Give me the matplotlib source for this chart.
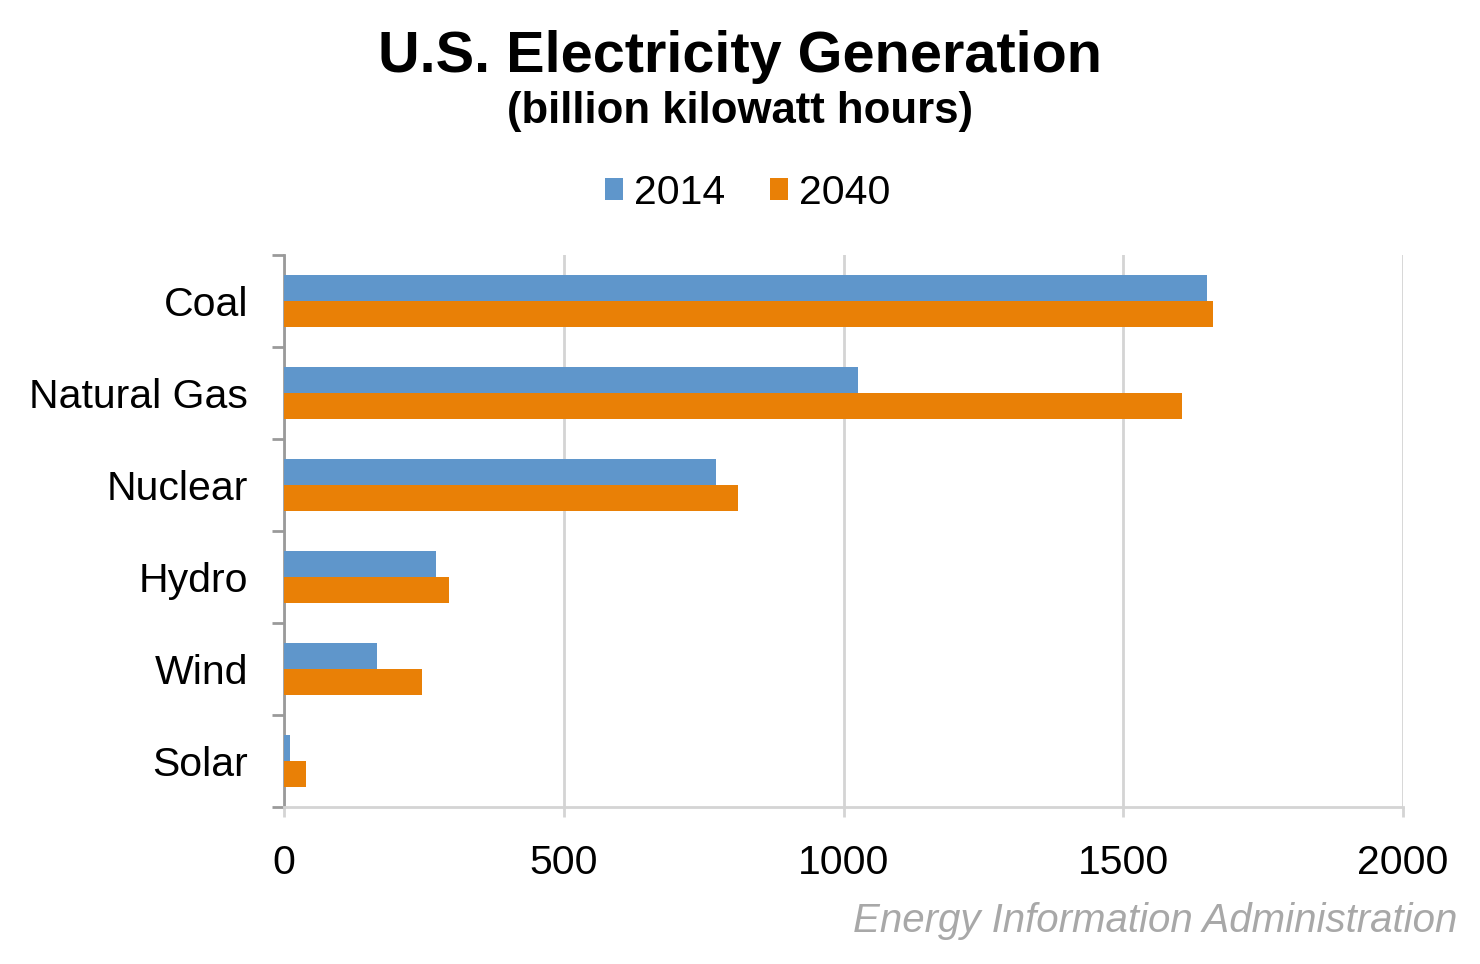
import matplotlib.pyplot as plt
import numpy as np

plt.rcParams["font.family"] = ["Liberation Sans", "DejaVu Sans"]

categories = ["Coal", "Natural Gas", "Nuclear", "Hydro", "Wind", "Solar"]
gen_2014 = [1650, 1026, 772, 272, 166, 11]
gen_2040 = [1660, 1605, 811, 295, 247, 39]
xticks = [0, 500, 1000, 1500, 2000]

BLUE = "#5f96cb"
ORANGE = "#e98006"

fig = plt.figure(figsize=(14.8, 9.64), dpi=100)
ax = fig.add_axes([0.1919, 0.1629, 0.7561, 0.5726])

y = np.arange(len(categories))
h = 0.28
ax.barh(y - h / 2, gen_2014, height=h, color=BLUE, label="2014", zorder=3)
ax.barh(y + h / 2, gen_2040, height=h, color=ORANGE, label="2040", zorder=3)

ax.set_ylim(len(categories) - 0.5, -0.5)
ax.set_xlim(0, 2000)
ax.set_xticks(xticks)
ax.set_xticklabels([str(v) for v in xticks])
ax.set_yticks(y)
ax.set_yticklabels(categories)
ax.set_yticks(np.arange(-0.5, len(categories), 1.0), minor=True)

ax.grid(axis="x", color="#d4d4d4", lw=2.0, zorder=0)
for s in ["top", "right"]:
    ax.spines[s].set_visible(False)
ax.spines["left"].set_color("#9a9a9a")
ax.spines["left"].set_linewidth(2.0)
ax.spines["bottom"].set_color("#d4d4d4")
ax.spines["bottom"].set_linewidth(2.0)

ax.tick_params(axis="y", which="major", length=0, pad=26, labelsize=29.5)
ax.tick_params(axis="y", which="minor", length=9, width=2.0, color="#9a9a9a")
ax.tick_params(axis="x", which="major", length=7, width=2.0, color="#d4d4d4",
               pad=20, labelsize=29.5)
for lab in ax.get_yticklabels():
    lab.set_y(lab.get_position()[1])

ax.legend(loc="center", bbox_to_anchor=(0.505, 0.8), bbox_transform=fig.transFigure,
          ncols=2, frameon=False, fontsize=29.5, handlelength=0.45, handleheight=0.45,
          handletextpad=0.25, columnspacing=1.1)

fig.text(0.5, 0.941, "U.S. Electricity Generation", ha="center", va="center",
         fontsize=41.5, fontweight="bold")
fig.text(0.5, 0.884, "(billion kilowatt hours)", ha="center", va="center",
         fontsize=31.5, fontweight="bold")
fig.text(0.985, 0.045, "Energy Information Administration", ha="right", va="center",
         fontsize=29, style="italic", color="#a8a8a8")

fig.savefig("out.png", dpi=100)
